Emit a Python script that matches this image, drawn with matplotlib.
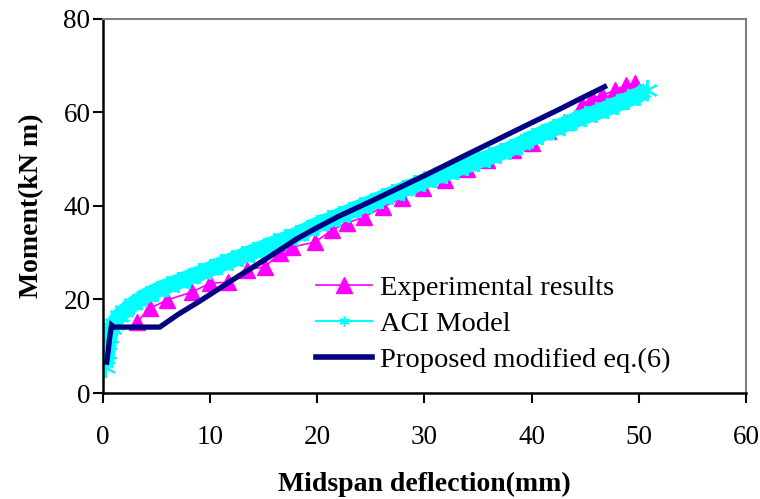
import matplotlib
matplotlib.use("Agg")
import matplotlib.pyplot as plt
from matplotlib.lines import Line2D

plt.rcParams['font.family'] = ['Liberation Serif', 'DejaVu Serif']

# Experimental results (triangles)
exp_x = [3.2, 4.4, 6.0, 8.3, 10.0, 11.7, 13.4, 15.1, 16.5, 17.6, 19.8, 21.4,
         22.8, 24.4, 26.1, 27.9, 29.9, 31.9, 34.0, 35.8, 38.3, 40.0, 41.5, 43.0, 44.7,
         45.6, 46.6, 47.8, 48.8, 49.6]
exp_y = [15.2, 18.2, 19.9, 21.6, 23.5, 23.7, 26.3, 27.0, 29.9, 31.2, 32.3, 34.9,
         36.4, 37.7, 39.8, 41.7, 43.9, 45.6, 47.9, 49.8, 52.0, 53.5, 56.0, 58.0, 61.6,
         63.0, 63.7, 64.8, 65.9, 66.3]

# ACI model
aci_x = [0.2, 0.4, 0.6, 0.8, 1.0, 1.5, 2.0, 2.8, 4.0, 5.0, 6.0, 7.0, 8.0, 9.0, 10.0, 11.0,
         12.0, 13.0, 14.0, 15.0, 16.0, 17.0, 18.0, 19.0, 20.0, 21.0, 22.0, 23.0, 24.0, 25.0,
         26.0, 27.0, 28.0, 29.0, 30.0, 31.0, 32.0, 33.0, 34.0, 35.0, 36.0, 37.0, 38.0, 39.0,
         40.0, 41.0, 42.0, 43.0, 44.0, 45.0, 46.0, 47.0, 48.0, 49.0, 50.0, 50.8]
aci_y = [5.6, 8.5, 12.0, 13.8, 14.8, 16.5, 17.5, 19.0, 20.8, 21.9, 22.9, 23.8, 24.7, 25.6,
         26.5, 27.5, 28.4, 29.3, 30.2, 31.1, 32.0, 32.9, 33.8, 34.9, 36.0, 36.9, 37.9, 38.8,
         39.8, 40.7, 41.7, 42.6, 43.5, 44.4, 45.3, 46.2, 47.0, 47.9, 48.7, 49.6, 50.4, 51.3,
         52.2, 53.3, 54.5, 55.5, 56.5, 57.4, 58.3, 59.2, 60.0, 60.9, 61.8, 62.8, 63.8, 64.8]

# Proposed modified eq.(6)
prop_x = [0.35, 0.5, 0.6, 0.8, 1.0, 1.9, 5.3, 7.0, 9.0, 12.1, 15.3, 18.1, 20.0, 22.0,
          25.0, 28.0, 30.0, 33.6, 35.2, 38.3, 40.0, 42.6, 44.5, 46.8]
prop_y = [6.6, 9.2, 11.5, 14.5, 14.1, 14.1, 14.1, 16.8, 19.6, 24.2, 28.8, 33.0, 35.4, 37.8,
          41.0, 44.3, 46.5, 50.6, 52.4, 55.9, 57.8, 60.7, 62.9, 65.5]

MAGENTA = '#FF00FF'
CYAN = '#00FFFF'
NAVY = '#000080'

fig = plt.figure(figsize=(7.6, 4.99), dpi=100)
ax = fig.add_axes([0.1355, 0.2124, 0.8461, 0.7496])

ax.plot(exp_x, exp_y, color=MAGENTA, lw=1.2, marker='^', ms=11, mec=MAGENTA, mfc=MAGENTA)
# ACI curve is a dense run of asterisk markers, which reads as a thick band
ax.plot(aci_x, aci_y, color=CYAN, lw=11.5, solid_capstyle='butt')
ax.plot(aci_x, aci_y, color=CYAN, lw=0, marker=(6, 2, 0), ms=15, mew=1.6)
ax.plot(prop_x, prop_y, color=NAVY, lw=3.8, solid_joinstyle='miter')

ax.set_xlim(0, 60)
ax.set_ylim(0, 80)
ax.set_xticks(range(0, 61, 10))
ax.set_yticks(range(0, 81, 20))
ax.tick_params(direction='out', length=7, width=1.5, labelsize=19.5, color='black')
ax.tick_params(axis='x', pad=16)
ax.tick_params(axis='y', pad=2)
for s in ['left', 'bottom']:
    ax.spines[s].set_linewidth(1.8)
    ax.spines[s].set_color('black')
for s in ['top', 'right']:
    ax.spines[s].set_linewidth(1.5)
    ax.spines[s].set_color('#808080')

ax.set_xlabel('Midspan deflection(mm)', fontsize=20, fontweight='bold', labelpad=16)
ax.set_ylabel('Moment(kN m)', fontsize=20, fontweight='bold', labelpad=14)

handles = [
    Line2D([], [], color=MAGENTA, lw=1.2, marker='^', ms=12),
    Line2D([], [], color=CYAN, lw=1.5, marker=(6, 2, 0), ms=7, mew=1.2),
    Line2D([], [], color=NAVY, lw=4),
]
labels = ['Experimental results', 'ACI Model', 'Proposed modified eq.(6)']
ax.legend(handles, labels, loc='upper left', bbox_to_anchor=(0.331, 0.316),
          frameon=False, fontsize=20.5, handlelength=1.96, handletextpad=0.28,
          labelspacing=0.36, borderaxespad=0, borderpad=0)

fig.savefig('out.png', dpi=100)
